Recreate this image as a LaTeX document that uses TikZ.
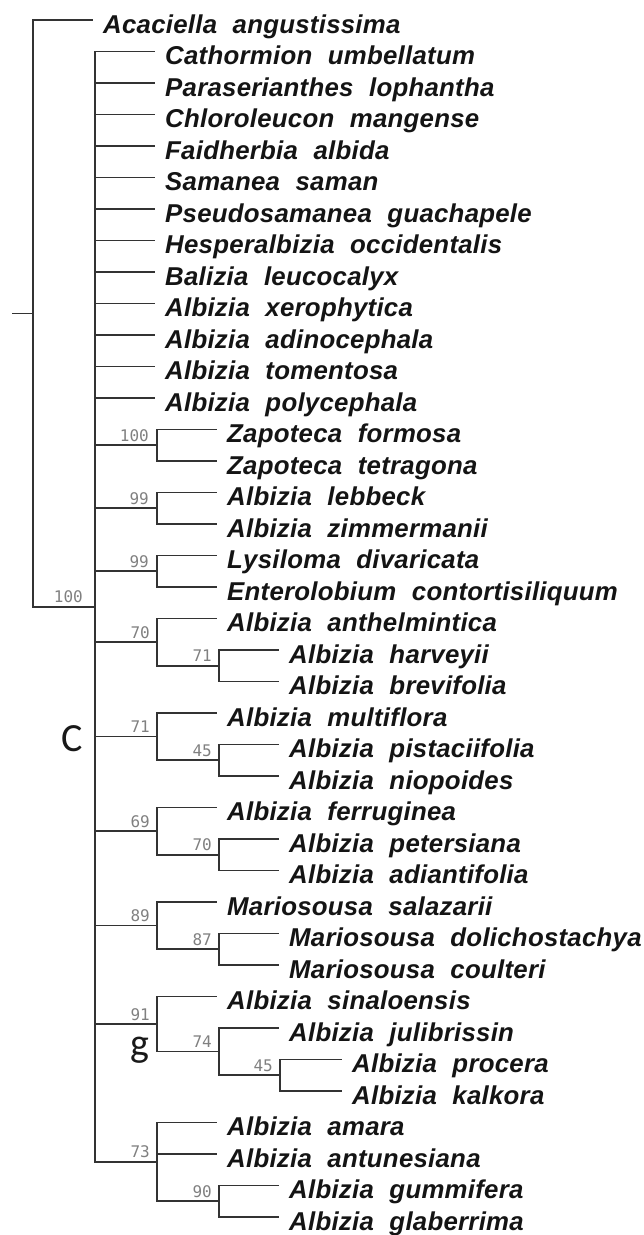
\documentclass[tikz,border=0pt]{standalone}
\usepackage{fontspec}
\newfontfamily\taxfont[WordSpace=2.1,LetterSpace=1.0]{Liberation Sans}
\newfontfamily\bsfont{DejaVu Sans Mono}
\newfontfamily\cladefont{Carlito}
\newcommand\leaf[4]{\coordinate (#1) at (#2,#3); \node[taxon] (#1n) at ([xshift=10pt,yshift=-13pt]#1) {#4};}
\newcommand\bootlab[4]{\node[boot] (#1) at ([xshift=-#3pt,yshift=4pt]#2) {#4};}
\begin{document}
\begin{tikzpicture}[x=1pt,y=-1pt,
  branch/.style={draw=black!80, line width=1.6pt},
  taxon/.style={anchor=base west, inner sep=0pt, font=\taxfont\bfseries\itshape\fontsize{25.8}{30}\selectfont, text=black!92},
  boot/.style={anchor=base east, inner sep=0pt, font=\bsfont\fontsize{16}{18}\selectfont, text=black!50},
  clade/.style={anchor=base, inner sep=0pt, font=\cladefont\fontsize{40}{44}\selectfont, text=black!90}]
\useasboundingbox (0,0) rectangle (644,1235);

% leaves
\leaf{t1}{93}{20}{Acaciella angustissima}
\leaf{t2}{155}{51.5}{Cathormion umbellatum}
\leaf{t3}{155}{83}{Paraserianthes lophantha}
\leaf{t4}{155}{114.5}{Chloroleucon mangense}
\leaf{t5}{155}{146}{Faidherbia albida}
\leaf{t6}{155}{177.5}{Samanea saman}
\leaf{t7}{155}{209}{Pseudosamanea guachapele}
\leaf{t8}{155}{240.5}{Hesperalbizia occidentalis}
\leaf{t9}{155}{272}{Balizia leucocalyx}
\leaf{t10}{155}{303.5}{Albizia xerophytica}
\leaf{t11}{155}{335}{Albizia adinocephala}
\leaf{t12}{155}{366.5}{Albizia tomentosa}
\leaf{t13}{155}{398}{Albizia polycephala}
\leaf{t14}{217}{429.5}{Zapoteca formosa}
\leaf{t15}{217}{461}{Zapoteca tetragona}
\leaf{t16}{217}{492.5}{Albizia lebbeck}
\leaf{t17}{217}{524}{Albizia zimmermanii}
\leaf{t18}{217}{555.5}{Lysiloma divaricata}
\leaf{t19}{217}{587}{Enterolobium contortisiliquum}
\leaf{t20}{217}{618.5}{Albizia anthelmintica}
\leaf{t21}{279}{650}{Albizia harveyii}
\leaf{t22}{279}{681.5}{Albizia brevifolia}
\leaf{t23}{217}{713}{Albizia multiflora}
\leaf{t24}{279}{744.5}{Albizia pistaciifolia}
\leaf{t25}{279}{776}{Albizia niopoides}
\leaf{t26}{217}{807.5}{Albizia ferruginea}
\leaf{t27}{279}{839}{Albizia petersiana}
\leaf{t28}{279}{870.5}{Albizia adiantifolia}
\leaf{t29}{217}{902}{Mariosousa salazarii}
\leaf{t30}{279}{933.5}{Mariosousa dolichostachya}
\leaf{t31}{279}{965}{Mariosousa coulteri}
\leaf{t32}{217}{996.5}{Albizia sinaloensis}
\leaf{t33}{279}{1028}{Albizia julibrissin}
\leaf{t34}{342}{1059.5}{Albizia procera}
\leaf{t35}{342}{1091}{Albizia kalkora}
\leaf{t36}{217}{1122.5}{Albizia amara}
\leaf{t37}{217}{1154}{Albizia antunesiana}
\leaf{t38}{279}{1185.5}{Albizia gummifera}
\leaf{t39}{279}{1217}{Albizia glaberrima}

% internal nodes
\coordinate (stub) at (12,313.3);
\coordinate (R) at (33,313.3);
\coordinate (M) at (95,606.7);
\coordinate (Z) at (157,445.25);
\coordinate (Le) at (157,508.25);
\coordinate (Ly) at (157,571.25);
\coordinate (A70) at (157,642.1);
\coordinate (A71) at (219,665.75);
\coordinate (B71) at (157,736.6);
\coordinate (B45) at (219,760.25);
\coordinate (C69) at (157,831.1);
\coordinate (C70) at (219,854.75);
\coordinate (D89) at (157,925.6);
\coordinate (D87) at (219,949.25);
\coordinate (E91) at (157,1024.1);
\coordinate (E74) at (219,1051.6);
\coordinate (E45) at (280,1075.25);
\coordinate (F73) at (157,1161.9);
\coordinate (F90) at (219,1201.25);

% branches
\draw[branch, line width=1.1pt] (stub) -- (R);
\draw[branch] (R) |- (t1) (R) |- (M);
\foreach \c in {t2,t3,t4,t5,t6,t7,t8,t9,t10,t11,t12,t13,Z,Le,Ly,A70,B71,C69,D89,E91,F73}
  \draw[branch] (M) |- (\c);
\draw[branch] (Z) |- (t14) (Z) |- (t15);
\draw[branch] (Le) |- (t16) (Le) |- (t17);
\draw[branch] (Ly) |- (t18) (Ly) |- (t19);
\draw[branch] (A70) |- (t20) (A70) |- (A71);
\draw[branch] (A71) |- (t21) (A71) |- (t22);
\draw[branch] (B71) |- (t23) (B71) |- (B45);
\draw[branch] (B45) |- (t24) (B45) |- (t25);
\draw[branch] (C69) |- (t26) (C69) |- (C70);
\draw[branch] (C70) |- (t27) (C70) |- (t28);
\draw[branch] (D89) |- (t29) (D89) |- (D87);
\draw[branch] (D87) |- (t30) (D87) |- (t31);
\draw[branch] (E91) |- (t32) (E91) |- (E74);
\draw[branch] (E74) |- (t33) (E74) |- (E45);
\draw[branch] (E45) |- (t34) (E45) |- (t35);
\draw[branch] (F73) |- (t36) (F73) |- (t37) (F73) |- (F90);
\draw[branch] (F90) |- (t38) (F90) |- (t39);

% bootstrap values
\bootlab{bM}{M}{12}{100}
\bootlab{bZ}{Z}{8}{100}
\bootlab{bLe}{Le}{8}{99}
\bootlab{bLy}{Ly}{8}{99}
\bootlab{bA70}{A70}{7}{70}
\bootlab{bA71}{A71}{7}{71}
\bootlab{bB71}{B71}{7}{71}
\bootlab{bB45}{B45}{7}{45}
\bootlab{bC69}{C69}{7}{69}
\bootlab{bC70}{C70}{7}{70}
\bootlab{bD89}{D89}{7}{89}
\bootlab{bD87}{D87}{7}{87}
\bootlab{bE91}{E91}{7}{91}
\bootlab{bE74}{E74}{7}{74}
\bootlab{bE45}{E45}{7}{45}
\bootlab{bF73}{F73}{7}{73}
\bootlab{bF90}{F90}{7}{90}

% clade letters
\node[clade] (cC) at (72,751) {C};
\node[clade] (cg) at (140,1056) {g};
\end{tikzpicture}
\end{document}
